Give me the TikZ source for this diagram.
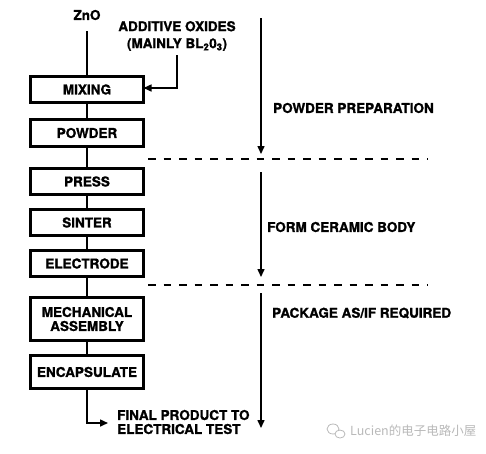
\documentclass[tikz,border=0pt]{standalone}
\usepackage{fontspec}
\setmainfont{TeX Gyre Heros}
\newfontfamily\heavy{TeX Gyre Heros Bold}[FakeBold=1.3]
\newfontfamily\cjkfont{Noto Sans CJK SC}
\usetikzlibrary{arrows.meta}
\definecolor{wmgray}{RGB}{185,185,185}
\tikzset{
  stepbox/.style={draw, line width=3pt, minimum width=113pt, inner sep=0pt, outer sep=0pt, align=center, font=\heavy\bfseries\fontsize{13.5}{14}\selectfont},
  lbl/.style={inner sep=0pt, font=\heavy\bfseries\fontsize{13.5}{14}\selectfont},
  conn/.style={line width=1.5pt},
  arr/.style={line width=1.5pt, -{Triangle[length=8pt,width=7pt]}},
  sep/.style={line width=2.2pt, dash pattern=on 7.5pt off 8pt}
}
\begin{document}
\begin{tikzpicture}[x=1pt,y=-1pt]
\useasboundingbox (0,0) rectangle (486,453);
% nodes
\node[lbl] (zno) at (87,15) {ZnO};
\node[lbl, align=center] (add) at (177,36) {ADDITIVE OXIDES\\[3pt](MAINLY BL\textsubscript{2}0\textsubscript{3})};
\node[stepbox, minimum height=26.5pt] (mix) at (87,89.5) {MIXING};
\node[stepbox, minimum height=27pt] (pow) at (87,133) {POWDER};
\node[stepbox, minimum height=26.5pt] (press) at (87,181.5) {PRESS};
\node[stepbox, minimum height=26.5pt] (sint) at (87,222.5) {SINTER};
\node[stepbox, minimum height=26.5pt] (elec) at (87,263.5) {ELECTRODE};
\node[stepbox, minimum height=43pt] (mech) at (87,319) {MECHANICAL\\ASSEMBLY};
\node[stepbox, minimum height=33pt] (enc) at (87,372) {ENCAPSULATE};
\node[lbl, anchor=west, align=left] (final) at (117,422) {FINAL PRODUCT TO\\ELECTRICAL TEST};
\node[lbl, anchor=west] (pp) at (273,108) {POWDER PREPARATION};
\node[lbl, anchor=west] (fcb) at (267,227) {FORM CERAMIC BODY};
\node[lbl, anchor=west] (pkg) at (272,313) {PACKAGE AS/IF REQUIRED};
\node[inner sep=0pt, anchor=west, text=wmgray, font=\cjkfont\fontsize{12.5}{13}\selectfont] (wm) at (350,431) {Lucien的电子电路小屋};
% watermark icon
\draw[wmgray, line width=0.8pt] (333,429) ellipse (6pt and 5pt);
\draw[wmgray, line width=0.8pt, fill=white] (340,434) ellipse (5pt and 4pt);
% coordinates
\coordinate (znostart) at (87,31);
\coordinate (addstart) at (177,55);
\coordinate (addbend) at (177,88);
\coordinate (finbend) at (87,423);
\coordinate (fintip) at (108,423);
\coordinate (a1s) at (261,18);
\coordinate (a1e) at (261,154);
\coordinate (a2s) at (261,172);
\coordinate (a2e) at (261,277);
\coordinate (a3s) at (261,293);
\coordinate (a3e) at (261,428);
\coordinate (d1s) at (148,159);
\coordinate (d1e) at (428,159);
\coordinate (d2s) at (148,285);
\coordinate (d2e) at (428,285);
% connectors
\draw[conn] (znostart) -- (mix.north);
\draw[conn] (mix.south) -- (pow.north);
\draw[conn] (pow.south) -- (press.north);
\draw[conn] (press.south) -- (sint.north);
\draw[conn] (sint.south) -- (elec.north);
\draw[conn] (elec.south) -- (mech.north);
\draw[conn] (mech.south) -- (enc.north);
\draw[arr] (enc.south) -- (finbend) -- (fintip);
\draw[arr] (addstart) -- (addbend) -- (mix.east |- addbend);
% stage arrows
\draw[arr] (a1s) -- (a1e);
\draw[arr] (a2s) -- (a2e);
\draw[arr] (a3s) -- (a3e);
% separators
\draw[sep] (d1s) -- (d1e);
\draw[sep] (d2s) -- (d2e);
\end{tikzpicture}
\end{document}
